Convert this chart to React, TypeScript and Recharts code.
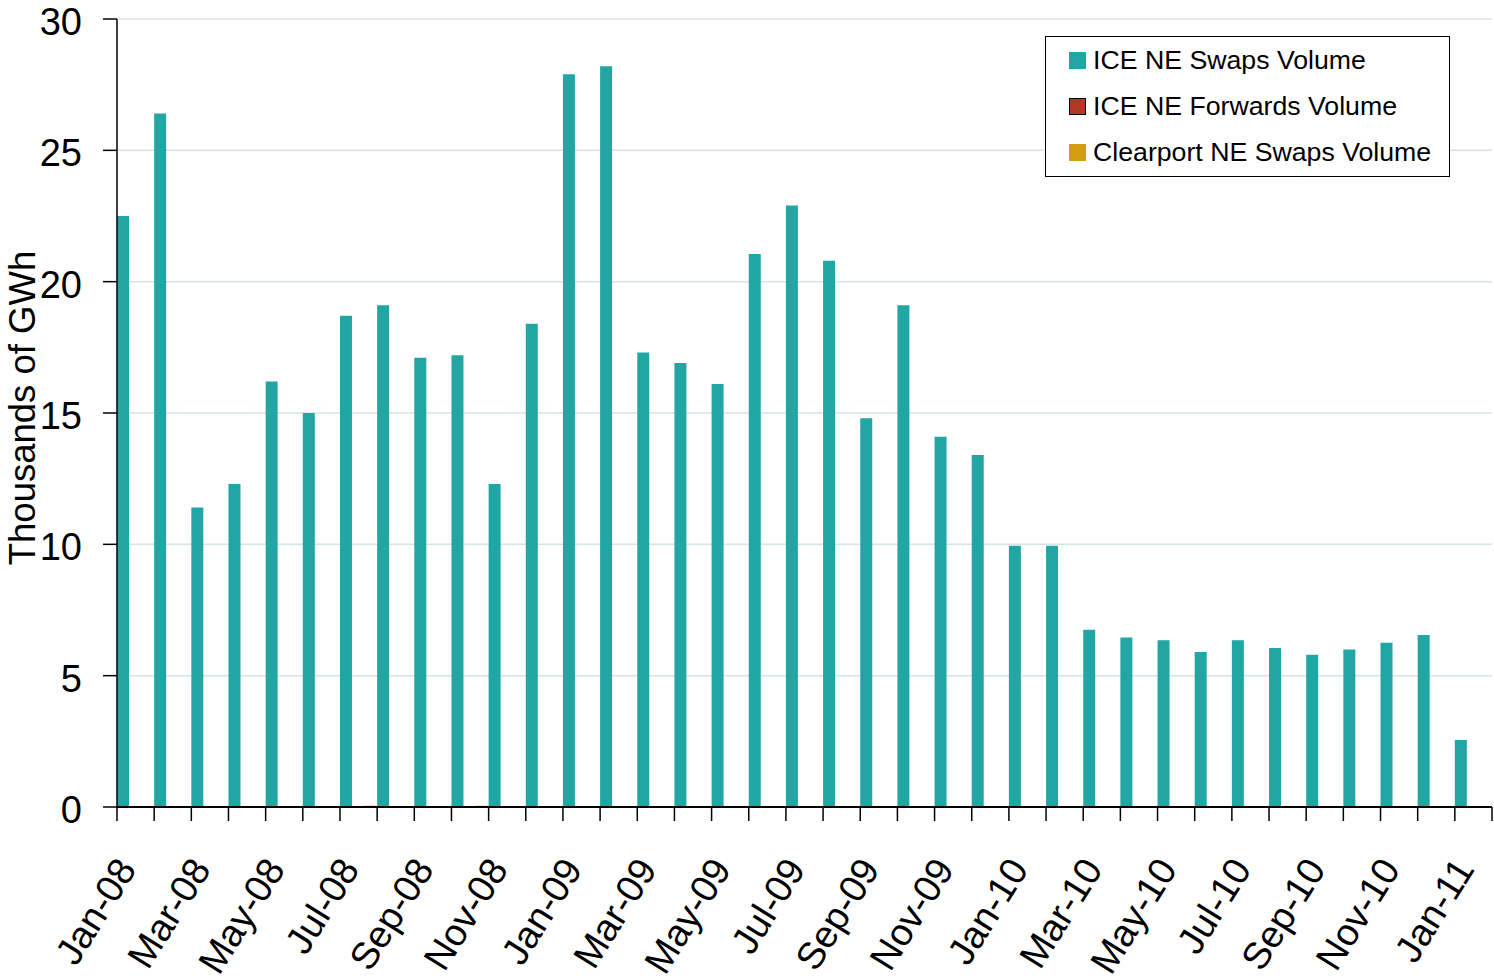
import React from 'react';
import { BarChart, Bar, XAxis, YAxis, CartesianGrid, Legend } from 'recharts';

// Monthly New England power trading volume, thousands of GWh
const months = [
  'Jan-08', 'Feb-08', 'Mar-08', 'Apr-08', 'May-08', 'Jun-08', 'Jul-08', 'Aug-08', 'Sep-08', 'Oct-08', 'Nov-08', 'Dec-08',
  'Jan-09', 'Feb-09', 'Mar-09', 'Apr-09', 'May-09', 'Jun-09', 'Jul-09', 'Aug-09', 'Sep-09', 'Oct-09', 'Nov-09', 'Dec-09',
  'Jan-10', 'Feb-10', 'Mar-10', 'Apr-10', 'May-10', 'Jun-10', 'Jul-10', 'Aug-10', 'Sep-10', 'Oct-10', 'Nov-10', 'Dec-10',
  'Jan-11',
];

const iceSwaps = [
  22.5, 26.4, 11.4, 12.3, 16.2, 15.0, 18.7, 19.1, 17.1, 17.2, 12.3, 18.4,
  27.9, 28.2, 17.3, 16.9, 16.1, 21.05, 22.9, 20.8, 14.8, 19.1, 14.1, 13.4,
  9.95, 9.95, 6.75, 6.45, 6.35, 5.9, 6.35, 6.05, 5.8, 6.0, 6.25, 6.55,
  2.55,
];

const iceForwards = [
  0, 0, 0, 0, 0, 0, 0, 0, 0, 0, 0, 0,
  0, 0, 0, 0, 0, 0, 0, 0, 0, 0, 0, 0,
  0, 0, 0, 0, 0, 0, 0, 0, 0, 0, 0, 0,
  0,
];

const clearportSwaps = [
  0, 0, 0, 0, 0, 0, 0.05, 0, 0, 0.05, 0, 0,
  0, 0, 0, 0, 0, 0, 0, 0, 0, 0, 0, 0,
  0, 0, 0, 0, 0, 0, 0, 0, 0, 0, 0, 0,
  0,
];

const yTicks = [0, 5, 10, 15, 20, 25, 30];

const SERIES = [
  { key: 'iceSwaps', name: 'ICE NE Swaps Volume', color: '#22a6a3', border: 'none' },
  { key: 'iceForwards', name: 'ICE NE Forwards Volume', color: '#b23a22', border: '1px solid #000' },
  { key: 'clearportSwaps', name: 'Clearport NE Swaps Volume', color: '#d49f0f', border: 'none' },
];

const data = months.map((month, i) => ({
  month,
  iceSwaps: iceSwaps[i],
  iceForwards: iceForwards[i],
  clearportSwaps: clearportSwaps[i],
}));

const FONT = '"Liberation Sans", Arial, Helvetica, sans-serif';

// Category tick: boundary tick marks on both sides of each band, label on every other month
function MonthTick(props: any) {
  const { x, y, payload, index } = props;
  const half = payload && typeof payload.offset === 'number' && payload.offset > 0 ? payload.offset : 18.58;
  const i = typeof index === 'number' ? index : payload.index;
  const last = i === months.length - 1;
  const lx = x + 2;
  const ly = y + 62;
  return (
    <g>
      <line x1={x - half} y1={y} x2={x - half} y2={y + 14} stroke="#000" strokeWidth={1.5} />
      {last && <line x1={x + half} y1={y} x2={x + half} y2={y + 14} stroke="#000" strokeWidth={1.5} />}
      {i % 2 === 0 && (
        <text
          x={lx}
          y={ly}
          textAnchor="end"
          fontSize={38}
          fontFamily={FONT}
          fill="#000"
          transform={`rotate(-58, ${lx}, ${ly})`}
        >
          {payload.value}
        </text>
      )}
    </g>
  );
}

function ValueTick(props: any) {
  const { x, y, payload } = props;
  return (
    <text x={x} y={y + 16} textAnchor="end" fontSize={38} fontFamily={FONT} fill="#000">
      {payload.value}
    </text>
  );
}

function YTitle(props: any) {
  const vb = props.viewBox || { x: 0, y: 19, width: 117, height: 788 };
  const cx = vb.x + 35;
  const cy = vb.y + vb.height / 2 - 5;
  return (
    <text
      x={cx}
      y={cy}
      textAnchor="middle"
      fontSize={36.5}
      fontFamily={FONT}
      fill="#000"
      transform={`rotate(-90, ${cx}, ${cy})`}
    >
      Thousands of GWh
    </text>
  );
}

function LegendBox() {
  return (
    <div
      style={{
        width: 405,
        height: 141,
        border: '1px solid #000',
        background: '#fff',
        paddingTop: 0,
        boxSizing: 'border-box',
        fontFamily: FONT,
        fontSize: 26.7,
        color: '#000',
      }}
    >
      {SERIES.map((s) => (
        <div key={s.key} style={{ height: 46, display: 'flex', alignItems: 'center' }}>
          <span
            style={{
              display: 'inline-block',
              width: 17,
              height: 17,
              marginLeft: 23,
              marginRight: 7,
              background: s.color,
              border: s.border,
              boxSizing: 'border-box',
            }}
          />
          <span style={{ whiteSpace: 'nowrap', lineHeight: '30px' }}>{s.name}</span>
        </div>
      ))}
    </div>
  );
}

export default function App() {
  return (
    <div style={{ position: 'absolute', left: 0, top: 0, width: 1494, height: 980, background: '#fff' }}>
      <BarChart
        width={1494}
        height={980}
        data={data}
        margin={{ top: 19, right: 2, left: 0, bottom: 0 }}
        barCategoryGap={0}
        barGap={0}
      >
        <CartesianGrid vertical={false} stroke="#d5e3e5" strokeWidth={1.5} />
        <XAxis
          dataKey="month"
          interval={0}
          height={173}
          tickLine={false}
          tickSize={0}
          tickMargin={0}
          axisLine={{ stroke: '#000', strokeWidth: 2 }}
          tick={<MonthTick />}
        />
        <YAxis
          width={117}
          domain={[0, 30]}
          ticks={yTicks}
          interval={0}
          tickSize={14}
          tickMargin={21}
          axisLine={{ stroke: '#000', strokeWidth: 1.5 }}
          tickLine={{ stroke: '#000', strokeWidth: 1.5 }}
          tick={<ValueTick />}
          label={<YTitle />}
        />
        <Legend
          layout="vertical"
          align="center"
          verticalAlign="middle"
          wrapperStyle={{ top: 36, left: 1045, width: 405, height: 141 }}
          content={() => <LegendBox />}
        />
        {SERIES.map((s) => (
          <Bar key={s.key} dataKey={s.key} name={s.name} fill={s.color} isAnimationActive={false} />
        ))}
      </BarChart>
    </div>
  );
}
